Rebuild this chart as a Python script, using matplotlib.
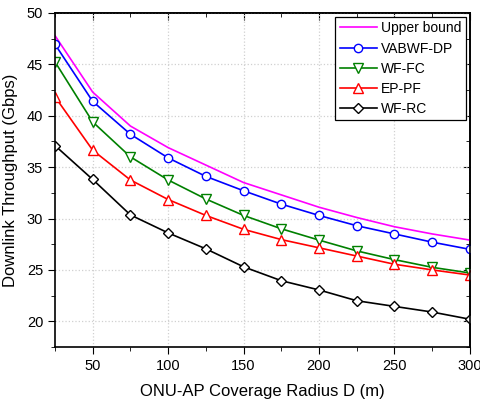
import numpy as np
import matplotlib.pyplot as plt
from matplotlib.ticker import MultipleLocator

plt.rcParams['font.family'] = ['Liberation Sans', 'DejaVu Sans']

radius = [25, 50, 75, 100, 125, 150, 175, 200, 225, 250, 275, 300]
upper_bound = [47.8, 42.3, 39.0, 36.9, 35.2, 33.5, 32.3, 31.1, 30.1, 29.2, 28.5, 27.9]
vabwf_dp = [46.95, 41.4, 38.2, 35.9, 34.1, 32.7, 31.4, 30.3, 29.3, 28.5, 27.7, 27.0]
wf_fc = [45.25, 39.4, 36.0, 33.75, 31.9, 30.3, 29.0, 27.9, 26.85, 26.0, 25.25, 24.7]
ep_pf = [41.85, 36.65, 33.75, 31.85, 30.3, 28.95, 27.95, 27.15, 26.35, 25.55, 25.0, 24.5]
wf_rc = [37.1, 33.8, 30.35, 28.6, 27.05, 25.3, 23.95, 23.05, 22.0, 21.45, 20.9, 20.2]

fig = plt.figure(figsize=(4.81, 4.01), dpi=100)
ax = fig.add_axes([0.1143, 0.1347, 0.8627, 0.8329])

ax.plot(radius, upper_bound, color='#ff00ff', lw=1.2, label='Upper bound')
ax.plot(radius, vabwf_dp, color='#0000ff', lw=1.2, marker='o', ms=6,
        mfc='white', mec='#0000ff', label='VABWF-DP')
ax.plot(radius, wf_fc, color='#008000', lw=1.2, marker='v', ms=7,
        mfc='white', mec='#008000', label='WF-FC')
ax.plot(radius, ep_pf, color='#ff0000', lw=1.2, marker='^', ms=7,
        mfc='white', mec='#ff0000', label='EP-PF')
ax.plot(radius, wf_rc, color='black', lw=1.2, marker='D', ms=5.5,
        mfc='white', mec='black', label='WF-RC')

ax.set_xlim(25, 300)
ax.set_ylim(17.5, 50)
ax.xaxis.set_major_locator(MultipleLocator(50))
ax.xaxis.set_minor_locator(MultipleLocator(25))
ax.yaxis.set_major_locator(MultipleLocator(5))
ax.yaxis.set_minor_locator(MultipleLocator(2.5))
ax.grid(True, which='major', color='#d0d0d0', ls=':', lw=0.9)
ax.tick_params(which='major', direction='out', length=5, labelsize=10.5)
ax.tick_params(which='minor', direction='out', length=3)

top = ax.secondary_xaxis('top')
top.xaxis.set_major_locator(MultipleLocator(50))
top.xaxis.set_minor_locator(MultipleLocator(25))
top.tick_params(which='major', direction='in', length=5, labeltop=False)
top.tick_params(which='minor', direction='in', length=3)
right = ax.secondary_yaxis('right')
right.yaxis.set_major_locator(MultipleLocator(5))
right.yaxis.set_minor_locator(MultipleLocator(2.5))
right.tick_params(which='major', direction='in', length=5, labelright=False)
right.tick_params(which='minor', direction='in', length=3)

for a in [ax, top, right]:
    for s in a.spines.values():
        s.set_linewidth(1.2)

ax.set_xlabel('ONU-AP Coverage Radius D (m)', fontsize=12, labelpad=8)
ax.set_ylabel('Downlink Throughput (Gbps)', fontsize=12, labelpad=6)

leg = ax.legend(loc='upper right', fontsize=10, fancybox=False, framealpha=1,
                edgecolor='black', borderaxespad=0.3, handlelength=2.7,
                handletextpad=0.3, labelspacing=0.45, borderpad=0.3)
leg.get_frame().set_linewidth(0.9)

fig.savefig('out.png', dpi=100)
